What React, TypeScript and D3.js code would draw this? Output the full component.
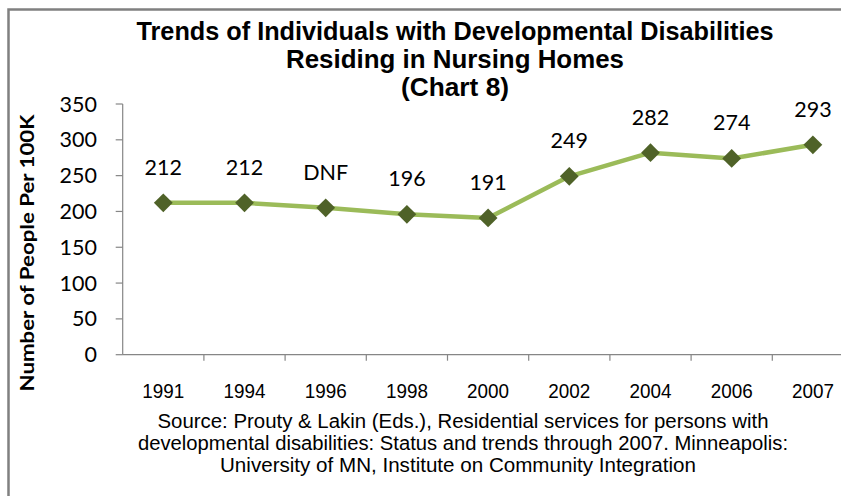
import React from "react";
import * as d3 from "d3";

const categories = ["1991", "1994", "1996", "1998", "2000", "2002", "2004", "2006", "2007"];
const values = [212, 212, 205, 196, 191, 249, 282, 274, 293];
const pointLabels = ["212", "212", "DNF", "196", "191", "249", "282", "274", "293"];
const yTicks = [0, 50, 100, 150, 200, 250, 300, 350];
const titleLines = [
  "Trends of Individuals with Developmental Disabilities",
  "Residing in Nursing Homes",
  "(Chart 8)",
];
const sourceLines = [
  "Source:  Prouty & Lakin (Eds.), Residential services for persons with",
  "developmental disabilities: Status and trends through 2007.  Minneapolis:",
  "University of MN, Institute on Community Integration",
];
const yTitle = "Number of People Per 100K";

export default function App() {
  const W = 841, H = 496;
  const x0 = 122.7, plotW = 9 * 81.2;
  const x = d3.scaleBand<string>().domain(categories).range([x0, x0 + plotW]);
  const y = d3.scaleLinear().domain([0, 350]).range([354.7, 104]);
  const cx = (c: string) => (x(c) as number) + x.bandwidth() / 2;
  const line = d3
    .line<number>()
    .x((_, i) => cx(categories[i]))
    .y((v) => y(v));
  const titleW = [637, 338, 108];
  const srcW = [611, 650, 476];
  const srcCx = [463, 463, 458];
  const narrow = "'Liberation Sans Narrow', 'Arial Narrow', 'Liberation Sans', Arial, sans-serif";
  const calib = "Lato, Carlito, Calibri, sans-serif";
  const diamond = d3.symbol().type(d3.symbolDiamond2).size(225);
  return (
    <svg width={W} height={H} style={{ position: "absolute", left: 0, top: 0, background: "#fff" }}>
      <rect x={8.5} y={9.5} width={1000} height={800} fill="#fff" stroke="#808080" strokeWidth={2.5} />
      {titleLines.map((t, i) => (
        <text
          key={i}
          x={455}
          y={40 + i * 28}
          textAnchor="middle"
          fontFamily={narrow}
          fontWeight="bold"
          fontSize={25}
          textLength={titleW[i]}
          lengthAdjust="spacingAndGlyphs"
          fill="#000"
        >
          {t}
        </text>
      ))}
      {/* y axis */}
      <line x1={x0} x2={x0} y1={y(350)} y2={y(0)} stroke="#868686" strokeWidth={1.2} />
      {yTicks.map((t) => (
        <g key={t}>
          <line x1={x0 - 7} x2={x0} y1={y(t)} y2={y(t)} stroke="#868686" strokeWidth={1.2} />
          <text x={97} y={y(t)} dy="0.35em" textAnchor="end" fontFamily={calib} fontSize={21.5} fill="#000">
            {t}
          </text>
        </g>
      ))}
      {/* x axis */}
      <line x1={x0} x2={x0 + plotW} y1={y(0)} y2={y(0)} stroke="#868686" strokeWidth={1.2} />
      {categories.map((c) => (
        <g key={c}>
          <line x1={(x(c) as number) + x.bandwidth()} x2={(x(c) as number) + x.bandwidth()} y1={y(0)} y2={y(0) + 6} stroke="#868686" strokeWidth={1.2} />
          <text
            x={cx(c)}
            y={398}
            textAnchor="middle"
            fontFamily="'Liberation Sans', Arial, sans-serif"
            fontSize={19.5}
            textLength={42}
            lengthAdjust="spacingAndGlyphs"
            fill="#000"
          >
            {c}
          </text>
        </g>
      ))}
      <text
        transform={`translate(34,253) rotate(-90)`}
        textAnchor="middle"
        fontFamily={calib}
        fontWeight="bold"
        fontSize={18}
        textLength={277}
        lengthAdjust="spacingAndGlyphs"
        fill="#000"
      >
        {yTitle}
      </text>
      <path d={line(values) || ""} fill="none" stroke="#9BBB59" strokeWidth={4.5} strokeLinejoin="round" />
      {values.map((v, i) => (
        <path key={i} d={diamond() || ""} transform={`translate(${cx(categories[i])},${y(v)})`} fill="#4F6228" />
      ))}
      {values.map((v, i) => (
        <text key={i} x={cx(categories[i])} y={y(v) - 28} textAnchor="middle" fontFamily={calib} fontSize={21.5} fill="#000">
          {pointLabels[i]}
        </text>
      ))}
      {sourceLines.map((t, i) => (
        <text
          key={i}
          x={srcCx[i]}
          y={428 + i * 22}
          textAnchor="middle"
          fontFamily="'Liberation Sans', Arial, sans-serif"
          fontSize={19.5}
          textLength={srcW[i]}
          lengthAdjust="spacingAndGlyphs"
          fill="#000"
        >
          {t}
        </text>
      ))}
    </svg>
  );
}
